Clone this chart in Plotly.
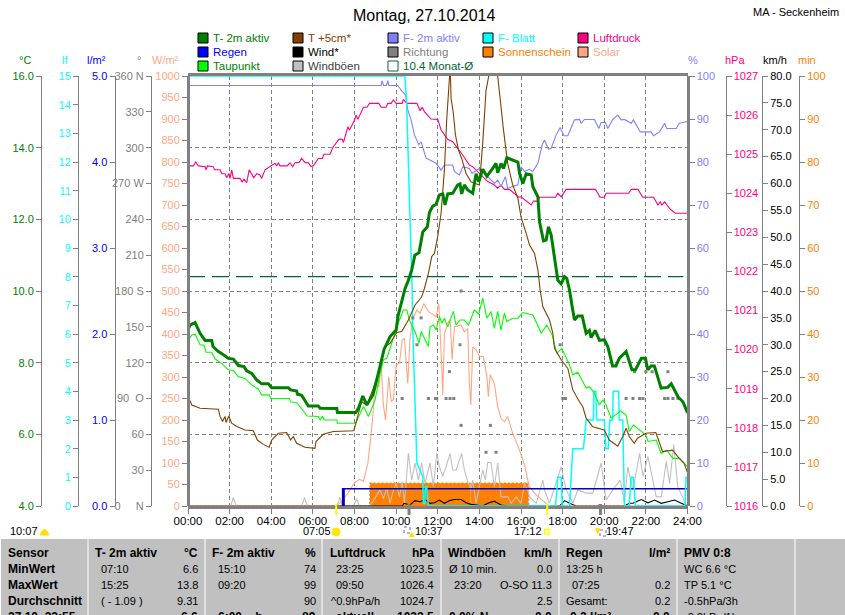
import plotly.graph_objects as go

# all series, hours on the x axis
hour_ticks = [0,2,4,6,8,10,12,14,16,18,20,22,24]
hour_labels = ['00:00','02:00','04:00','06:00','08:00','10:00','12:00','14:00','16:00','18:00','20:00','22:00','24:00']

t2m_h = [0,.1,.34,.58,.82,1.14,1.2,1.46,1.7,1.94,2.18,2.42,2.69,2.82,3.06,3.3,3.54,3.86,4.02,4.82,4.93,5.22,5.26,5.46,5.78,6.26,6.35,7.15,7.18,8.06,8.19,8.4,8.59,8.88,9.07,9.31,9.42,9.71,10,10.1,10.32,10.43,10.59,10.75,10.9,11.1,11.28,11.5,11.6,11.76,11.92,12.08,12.24,12.35,12.48,12.72,12.96,13.07,13.15,13.28,13.44,13.68,13.84,13.97,14.16,14.36,14.64,14.8,14.88,15.04,15.16,15.32,15.53,15.85,15.93,16.09,16.25,16.49,16.57,16.81,16.89,17.08,17.21,17.32,17.45,17.61,17.77,17.93,18.09,18.2,18.33,18.46,18.57,18.73,18.94,19.13,19.29,19.37,19.56,19.77,20,20.17,20.4,20.56,20.72,21.05,21.33,21.5,21.78,21.98,22.09,22.25,22.41,22.73,23.05,23.22,23.54,23.78,24]
t2m_val = [8.91,9.05,9.12,8.82,8.62,8.62,8.45,8.31,8.22,8.12,8.1,7.92,7.89,7.77,7.7,7.52,7.41,7.41,7.3,7.3,7.24,7.21,7.12,7.09,6.79,6.79,6.73,6.72,6.61,6.61,6.73,7.07,6.82,7.1,7.52,8.08,8.37,8.73,8.91,9.33,9.84,10.07,10.3,10.59,11,11.07,11.65,11.79,12.19,12.37,12.42,12.68,12.71,12.4,12.71,12.73,12.96,12.99,12.71,12.96,12.82,12.73,13.27,13.05,13.4,13.2,13.42,13.56,13.3,13.56,13.42,13.72,13.67,13.6,13.28,13,13.27,13.24,12.91,12.63,11.93,11.4,11.42,11.79,11.56,10.86,10.3,10.2,10.4,10.35,10.03,9.56,9.19,9.3,9.3,8.82,8.9,8.7,8.9,8.62,8.64,8.45,7.91,7.91,8.12,8.31,7.8,7.8,8.12,8.12,7.8,7.91,7.91,7.29,7.31,7.41,7.05,6.91,6.6]

dew_h = [0,.18,.34,.58,.77,.87,1.14,1.3,1.62,1.94,2.18,2.42,2.74,3.06,3.38,3.54,3.9,3.97,4.87,4.93,5.22,5.62,5.73,6.26,6.35,6.46,6.54,7.15,7.18,8.06,8.27,8.43,8.67,8.99,9.23,9.39,9.55,9.87,10.1,10.35,10.51,10.67,10.91,11.1,11.2,11.4,11.55,11.63,11.79,11.92,12.08,12.2,12.32,12.48,12.75,12.88,13.07,13.28,13.48,13.76,13.97,14.16,14.36,14.56,14.72,14.88,15.04,15.2,15.32,15.6,15.85,16.09,16.57,16.76,16.97,17.24,17.5,17.72,17.96,18.33,18.49,18.73,19.13,19.29,19.52,19.77,19.93,20.09,20.33,20.65,20.76,21.05,21.2,21.4,21.78,22,22.1,22.5,22.73,23,23.3,23.62,24]
dew_val = [8.62,8.77,8.8,8.5,8.49,8.29,8.29,8.1,7.98,7.8,7.78,7.61,7.56,7.38,7.26,7.1,7.1,7,7,6.9,6.89,6.59,6.51,6.5,6.4,6.51,6.4,6.4,6.31,6.31,6.59,6.78,6.5,6.96,7.7,8.08,8.12,8.73,9.1,9.47,9.47,9.15,8.87,8.54,8.87,8.63,8.45,9,9.05,8.91,9.29,9.1,9.24,9,9.43,9.05,9.19,9.19,9.05,9.47,9.36,9.8,9.24,9.43,8.96,9.43,8.91,9.38,9.15,9.24,9.24,9.4,9.33,9.1,8.82,9.05,8.77,8.26,8.4,7.94,7.66,7.73,7.29,7.33,7.15,6.82,6.96,6.82,6.45,6.59,6.66,6.54,6.08,6.26,6.08,5.98,5.8,5.84,5.47,5.56,5.33,5.33,5.1]

t5_h = [0,.1,.18,.58,1.46,1.54,1.66,1.78,1.83,1.96,2.1,2.34,2.74,3.14,3.33,3.62,3.9,4.02,4.34,4.74,4.93,5.06,5.22,5.62,6.1,6.15,6.5,6.98,7.97,8.1,8.34,8.59,8.91,9.23,9.47,9.71,10.03,10.27,10.59,10.91,11.23,11.36,11.55,11.71,11.84,12,12.16,12.32,12.43,12.56,12.6,12.64,12.75,12.85,13,13.17,13.36,13.6,14,14.16,14.32,14.45,14.66,14.88,15,15.16,15.36,15.6,15.85,16,16.25,16.41,16.65,16.81,16.92,17.05,17.37,17.53,17.61,17.93,18.25,18.49,18.81,18.97,19.13,19.45,20,20.24,20.65,20.89,21.05,21.2,21.44,21.6,22,22.48,22.8,23.28,23.6,23.84,24]
t5_val = [6.73,6.94,6.82,6.73,6.7,6.5,6.36,6.5,6.33,6.51,6.31,6.22,6.12,6.1,5.84,5.72,5.64,5.84,6.03,6.05,5.84,5.94,5.75,5.64,5.61,5.8,6,6.08,6.1,6.4,6.91,6.82,7.29,7.89,8.45,8.54,8.84,8.87,9.19,9.61,9.84,10.07,10.49,10.96,11.05,11.52,12.17,13.38,14.77,15.93,16.2,15.38,14.96,14.35,13.93,13.66,13.28,13.05,12.96,14.12,15.6,16,17.2,16,15.33,14.49,13.56,12.96,12.59,12.07,11.61,11.28,11.05,10.59,10.03,9.56,9.19,8.82,8.4,8.08,7.84,7.24,6.91,6.77,6.45,6.21,6.12,5.84,5.67,5.94,6.17,5.94,5.75,5.89,6.03,6.05,5.52,5.56,5.33,5.19,4.93]

hum_h = [0,9.28,9.32,9.4,9.53,9.6,9.65,10.08,10.24,10.45,10.56,10.72,10.88,11.09,11.2,11.44,11.6,11.92,12.16,12.32,12.72,12.8,13.04,13.2,13.52,13.65,14,14.16,14.4,14.72,14.88,15.04,15.25,15.36,15.85,16,16.17,16.4,16.57,16.81,17.02,17.13,17.32,17.45,17.69,17.88,18.06,18.25,18.57,18.81,18.89,19.05,19.53,19.74,19.85,20.06,20.17,20.41,20.65,20.81,20.97,21.29,21.4,21.73,22.25,22.37,22.66,22.9,23,23.46,23.6,24]
hum_val = [97.8,97.8,98.9,97.8,97.8,98.9,97.8,97.8,96.7,95.6,92.1,89.8,86.3,84,84.7,80.9,80.5,79.7,78.1,79.3,79.3,77.8,77,78.9,78.5,77.4,78.5,78.1,76.6,75,75.8,74.3,76.6,73.9,74.7,78.9,77.8,78.3,77.8,79.7,84,85.1,83,83.2,86.3,88,86.1,86.1,89.8,89.9,89,89.9,89.9,87.8,89.2,89.2,87.8,89.9,90.9,89.8,89.9,89,89.8,87,87,86.1,87,89,87.8,87.8,89,89.4]

press_h = [0,.26,.37,.5,.82,.87,.93,1.22,1.27,1.54,1.62,1.78,1.86,1.96,2.02,2.1,2.18,2.5,2.6,2.69,2.82,2.94,3.16,3.3,3.46,3.54,3.7,3.9,4.18,4.26,4.34,4.42,4.77,4.9,5.03,5.14,5.34,5.46,5.62,5.78,5.9,6.02,6.26,6.46,6.53,6.82,6.98,7.25,7.41,7.47,7.68,7.76,8,8.08,8.16,8.43,8.6,8.72,9.17,9.28,9.52,9.6,9.76,9.87,10,10.29,10.35,10.51,11,11.15,11.25,11.36,11.68,12,12.16,12.48,12.72,12.96,13.2,13.52,13.68,14,14.4,14.72,14.88,15.04,15.2,15.44,15.68,15.89,16,16.25,16.49,16.6,16.81,16.89,17.66,17.77,17.93,18.17,19.58,19.8,20,20.09,21.17,21.3,21.62,21.85,22.37,22.58,22.69,22.77,22.9,23.17,23.42,24]
press_val = [1024.7,1024.7,1024.8,1024.7,1024.68,1024.6,1024.7,1024.68,1024.6,1024.6,1024.5,1024.5,1024.4,1024.5,1024.38,1024.6,1024.38,1024.38,1024.29,1024.36,1024.27,1024.6,1024.4,1024.5,1024.47,1024.38,1024.6,1024.68,1024.77,1024.7,1024.78,1024.7,1024.7,1024.78,1024.68,1024.78,1024.79,1024.89,1024.79,1024.78,1024.69,1024.7,1024.89,1024.89,1025,1025,1025.19,1025.38,1025.38,1025.3,1025.7,1025.62,1025.87,1026,1025.89,1026.2,1026.2,1026.3,1026.3,1026.2,1026.2,1026.3,1026.3,1026.39,1026.3,1026.3,1026.4,1026.3,1026.3,1026.11,1026.2,1026.09,1025.9,1025.89,1025.62,1025.38,1025.32,1025.15,1024.98,1024.72,1024.68,1024.51,1024.3,1024.21,1024.13,1024.21,1024.1,1024.1,1024,1023.9,1023.91,1023.81,1023.7,1023.8,1023.8,1023.9,1023.9,1024,1023.91,1024.1,1024.1,1023.9,1023.9,1024,1024,1024.1,1024.1,1023.9,1023.9,1023.7,1023.78,1023.7,1023.78,1023.59,1023.49,1023.49]

leaf_h = [0,10.42,10.5,10.53,10.58,10.63,10.71,10.77,10.8,10.88,10.96,11,11.28,11.31,11.38,11.41,11.47,11.55,17.66,17.77,17.93,17.98,18.33,18.49,19,19.13,19.48,19.5,19.6,19.63,20,20.08,20.19,20.27,20.4,20.43,20.69,20.72,20.89,20.92,20.97,21.2,21.29,21.4,21.5,23.88,23.93,24]
leaf_val = [15,15,14.16,13.47,12.3,10.8,9.28,7.54,6.14,4.05,2.54,1.49,1.03,.1,.1,.68,.68,0,0,1,1,0,0,2,2,3,3,4,4,3,3,2,2,3,3,4,4,3,3,1.5,0,0,1,1,0,0,1,1]

solar_h = [0,7.05,7.3,7.68,8,8.24,8.43,8.64,8.75,8.85,8.96,9.07,9.17,9.28,9.39,9.49,9.65,9.76,9.87,10,10.16,10.29,10.4,10.56,10.67,10.8,11,11.15,11.33,11.55,11.71,11.92,12.05,12.13,12.2,12.24,12.32,12.48,12.6,12.69,12.8,13.12,13.28,13.44,13.52,13.59,13.68,13.84,14,14.2,14.36,14.43,14.52,14.72,14.88,15.04,15.2,15.36,15.6,15.93,16.17,16.4,16.73,17.2,17.37,24]
solar_val = [0,0,6,30,54,62,57,99,146,192,262,285,277,328,235,200,301,243,247,328,332,386,390,285,390,436,456,448,471,452,448,440,471,401,316,258,401,425,433,340,417,421,405,413,285,235,370,363,349,347,301,254,305,285,231,204,196,208,169,130,95,45,26,6,0,0]

gust_h = [0,2.05,2.18,2.31,5.47,5.6,5.73,7.17,7.3,7.43,7.97,8.1,8.23,8.75,9.23,9.39,9.55,9.71,9.87,10,10.16,10.29,10.4,10.59,10.75,10.91,11.07,11.23,11.39,11.63,11.79,11.95,12.08,12.24,12.4,12.59,12.72,12.88,13.15,13.28,13.44,13.6,13.68,13.84,14,14.16,14.29,14.4,14.56,14.72,14.88,15.04,15.37,15.53,15.77,16,16.17,16.33,16.41,16.73,17.05,17.13,17.37,17.93,18.17,18.49,18.73,19.13,19.45,19.85,20.09,20.41,20.77,20.97,21.13,21.38,21.7,21.86,22.1,22.34,22.5,22.74,22.98,23.14,23.34,23.53,23.74,23.9,24]
gust_val = [0,0,1.6,0,0,1.6,0,0,1.6,0,0,1.4,0,0,3,1.4,3.3,.5,3,4.2,1.7,4.5,.5,9.8,4.8,8,4.8,8,4.2,8,3.6,9.8,7.3,5.5,7.3,9.8,6.7,6.7,9.8,6.7,4.5,3,4.8,.5,3.6,6.7,4.8,8.1,8.1,3.6,8,1.7,1.7,.5,1.7,.5,4.2,3,1.7,.5,4.8,3,.5,7.3,3,.5,3,2.4,2.4,8,1.1,3,4.8,.5,7.3,3,9.8,5.5,9.2,4.8,1.7,1.7,8.3,4.2,11.4,3.6,1.7,.5,0]

wind_h = [0,10.3,10.38,10.67,10.9,11.15,11.4,11.63,11.84,12.08,12.32,12.56,12.8,13.12,13.36,13.6,14.16,14.4,14.72,15.04,15.37,17.85,18.09,18.33,18.65,20.97,21.2,21.38,21.78,22.1,22.42,22.74,23.06,23.38,23.7,24]
wind_val = [0,0,.5,.2,1,.8,1.2,.5,.6,1.1,.5,1,1.2,1.2,.6,.3,0,.5,.9,.2,0,0,1,.5,0,0,.5,.5,1.2,.6,1.1,.5,.8,1.1,.5,0]

dir_h = [10.29,10.8,11,11.2,11.55,11.89,11.95,12.4,12.56,12.59,12.77,13.07,13.12,13.12,14.32,14.53,14.8,17.88,18.01,18.14,19.77,21.05,21.38,21.45,21.7,21.86,22,22.3,22.9,23.06,23.06,23.3,23.54]
dir_val = [90,157.5,135,157.5,90,90,90,90,112.5,90,90,135,67.5,180,45,67.5,45,135,90,90,0,90,90,112.5,90,90,112.5,112.5,90,90,112.5,90,90]

rain_h = [7.43,7.43,7.5,7.5,7.5,24]
rain_val = [0,.2,.2,0,.2,.2]

sun_h = [0,8.74,8.75,13.55,13.55,13.6,13.6,16.35,16.36,24]
sun_val = [0,0,5.3,5.3,0,0,5.3,5.3,0,0]

month_h = [0,23.8]
month_val = [10.4,10.4]

# legend, column by column
legend_names = ['T- 2m aktiv','Regen','Taupunkt','T +5cm*','Wind*','Windböen','F- 2m aktiv','Richtung','10.4 Monat-Ø','F- Blatt','Sonnenschein','Luftdruck','Solar']
legend_fill = ['#008000','#0000ff','#00ff00','#804000','#000000','#c0c0c0','#8080ff','#808080','#ffffff','#00ffff','#ff8000','#ff0080','#ffa680']
legend_text = ['#008000','#0000ff','#008000','#804000','#000000','#404040','#8080ff','#808080','#006633','#00ffff','#ff8000','#ff0080','#ffa680']

# bottom table
table_heads = ['T- 2m aktiv','F- 2m aktiv','Luftdruck','Windböen','Regen']
table_units = ['°C','%','hPa','km/h','l/m²']
row_names = ['Sensor','MinWert','MaxWert','Durchschnitt','27.10. 23:55']
col_left = [['07:10','15:25','( - 1.09 )','   '],['15:10','09:20','','6:00 .. h'],['23:25','09:50','^0.9hPa/h','aktuell'],['Ø 10 min.','23:20','','0.0% N'],['13:25 h','07:25','Gesamt:','-0.2 l/m²']]
col_right = [['6.6','13.8','9.31','6.6'],['74','99','90','89'],['1023.5','1026.4','1024.7','1023.5'],['0.0','O-SO 11.3','2.5','0.0'],['','0.2','0.2','0.0']]
pmv_lines = ['WC 6.6 °C','TP 5.1 °C','-0.5hPa/3h','-0.2hPa/1h']

FONT = 'Liberation Sans'
W, H = 845, 615

def px(x):
	return x/W
def py(y):
	return 1-y/H

annos = []
shapes = []

def txt(x, y, s, color='black', size=11, anchor='left', bold=False):
	if bold:
		s = '<b>'+s+'</b>'
	annos.append(dict(x=px(x), y=py(y), xref='paper', yref='paper', text=s, showarrow=False, xanchor=anchor, yanchor='middle',
		font=dict(family=FONT, size=size, color=color), borderpad=0, borderwidth=0))

def box(x0, y0, x1, y1, fill, line='rgba(0,0,0,0)', w=1, layer='above', dash='solid'):
	shapes.append(dict(type='rect', xref='paper', yref='paper', x0=px(x0), x1=px(x1), y0=py(y0), y1=py(y1),
		fillcolor=fill, line=dict(color=line, width=w, dash=dash), layer=layer))

fig = go.Figure()

def line(x, y, axis, color, width=1.1, name='', **kw):
	fig.add_trace(go.Scatter(x=x, y=y, yaxis=axis, mode='lines', name=name, line=dict(color=color, width=width, **kw), showlegend=False, hoverinfo='skip'))

# drawing order follows the axis numbers, plotly stacks the overlays that way
fig.add_trace(go.Scatter(x=sun_h, y=sun_val, yaxis='y', mode='lines', fill='tozeroy', fillcolor='#ff8000', line=dict(color='#ff8000', width=1.5, dash='2px,2px'), showlegend=False, hoverinfo='skip'))
line(gust_h, gust_val, 'y2', '#c0c0c0', name='Windböen')
line(wind_h, wind_val, 'y2', '#000000', name='Wind*')
line(solar_h, solar_val, 'y3', '#ffa680', name='Solar')
line(rain_h, rain_val, 'y4', '#0000c8', 1.5, name='Regen')
line(press_h, press_val, 'y5', '#ff0080', name='Luftdruck')
line(hum_h, hum_val, 'y6', '#8080ff', name='F- 2m aktiv')
line(leaf_h, leaf_val, 'y7', '#00ffff', 1.5, name='F- Blatt')
fig.add_trace(go.Scatter(x=dir_h, y=dir_val, yaxis='y8', mode='markers', marker=dict(symbol='square', size=3, color='#808080'), showlegend=False, hoverinfo='skip'))
line(month_h, month_val, 'y9', '#006633', 1.2, name='Monat', dash='17px,7px')
line(dew_h, dew_val, 'y9', '#00ff00', name='Taupunkt')
line(t5_h, t5_val, 'y9', '#804000', name='T +5cm*')
line(t2m_h, t2m_val, 'y9', '#008000', 3, name='T- 2m aktiv')

def yax(lo, hi, pos, color, side='left', ticks=None, labels=None, dtick=None, fmt=None, lw=1, **kw):
	d = dict(range=[lo, hi], domain=[py(506), py(76)], anchor='free', position=px(pos), side=side, showgrid=False, zeroline=False,
		showline=True, linecolor='#808080', linewidth=lw, ticks='outside', ticklen=5, tickcolor='#808080', tickwidth=1,
		tickfont=dict(family=FONT, size=11, color=color), automargin=False)
	if ticks:
		d.update(tickmode='array', tickvals=ticks, ticktext=labels)
	else:
		d.update(tickmode='linear', tick0=lo, dtick=dtick)
	if fmt:
		d['tickformat'] = fmt
	d.update(kw)
	return d

layout_axes = dict(
	yaxis=yax(0, 100, 799, '#ff8000', 'right', dtick=10),
	yaxis2=yax(0, 80, 762, '#000000', 'right', dtick=5, fmt='.1f', overlaying='y'),
	yaxis3=yax(0, 1000, 188, '#ffa680', 'left', dtick=50, lw=3, overlaying='y'),
	yaxis4=yax(0, 5, 114.5, '#0000ff', 'left', dtick=1, fmt='.1f', overlaying='y'),
	yaxis5=yax(1016, 1027, 725.5, '#ff0080', 'right', dtick=1, fmt='d', overlaying='y'),
	yaxis6=yax(0, 100, 687.5, '#8080ff', 'right', dtick=10, lw=3, overlaying='y'),
	yaxis7=yax(0, 15, 78, '#00ffff', 'left', dtick=1, overlaying='y'),
	yaxis8=yax(0, 360, 151, '#808080', 'left', ticks=[0,30,60,90,120,150,180,210,240,270,300,330,360],
		labels=['0&nbsp;&nbsp;&nbsp;&nbsp;&nbsp;N','30','60','90&nbsp;&nbsp;O','120','150','180 S','210','240','270 W','300','330','360 N'], overlaying='y'),
	yaxis9=yax(4, 16, 41, '#008000', 'left', dtick=2, fmt='.1f', overlaying='y', showgrid=True, gridcolor='#808080', griddash='4px,3px', gridwidth=1),
)

# axis units above the scales
unit_x = [25, 65, 96, 139, 165, 693, 735, 775, 807]
unit_text = ['°C', 'lf', 'l/m²', '°', 'W/m²', '%', 'hPa', 'km/h', 'min']
unit_col = ['#008000', '#00ffff', '#0000ff', '#808080', '#ffa680', '#8080ff', '#ff0080', '#000000', '#ff8000']
for x, s, c in zip(unit_x, unit_text, unit_col):
	txt(x, 60, s, c, 11, 'center')

txt(424, 15, 'Montag, 27.10.2014', 'black', 16, 'center')
txt(753, 12, 'MA - Seckenheim', 'black', 11)

# legend swatches, three to a column
legend_cols = [198, 293, 388, 483, 578]
legend_rows = [38, 52, 66]
slots = [(0,0),(0,1),(0,2),(1,0),(1,1),(1,2),(2,0),(2,1),(2,2),(3,0),(3,1),(4,0),(4,1)]
for (c, r), n, f, t in zip(slots, legend_names, legend_fill, legend_text):
	x = legend_cols[c]
	y = legend_rows[r]
	edge = '#006633' if n.startswith('10.4') else '#000000'
	box(x, y-5, x+10, y+5, f, edge, 1)
	txt(x+15, y, n, t, 11.5)

# sun and moon times below the axis
sun_marks = [7.12, 17.26]
moon_marks = [10.62, 19.82]
for h in sun_marks:
	shapes.append(dict(type='line', xref='x', yref='paper', x0=h, x1=h, y0=py(504), y1=py(515), line=dict(color='#ffff00', width=2)))
for h in moon_marks:
	shapes.append(dict(type='line', xref='x', yref='paper', x0=h, x1=h, y0=py(504), y1=py(515), line=dict(color='#808080', width=3)))

txt(10, 531, '10:07')
txt(303, 531, '07:05')
shapes.append(dict(type='circle', xref='paper', yref='paper', x0=px(332), x1=px(340), y0=py(536), y1=py(528), fillcolor='#ffe800', line=dict(color='#ffe800', width=1)))
box(404, 527, 410, 533, 'rgba(0,0,0,0)', '#6060d0', 1, dash='dot')
txt(411.7, 533, '▲', '#ffe000', 10, 'center')
txt(443, 531, '10:37', 'black', 11, 'right')
txt(514, 531, '17:12')
box(544.5, 529.5, 549, 534, 'white', '#ffff00', 1.5)
box(600, 530, 606, 536, 'rgba(0,0,0,0)', '#6060d0', 1, dash='dot')
txt(598, 530, '▼', '#ffe000', 10, 'center')
txt(634, 531, '19:47', 'black', 11, 'right')
shapes.append(dict(type='path', xref='paper', yref='paper', path='M %f %f Q %f %f %f %f Z' % (px(40), py(535), px(44.5), py(524), px(49), py(535)), fillcolor='#ffe000', line=dict(color='#ffe000', width=1)))

# table below the chart
box(1, 539, W, H+2, '#c0c0c0', layer='below')
for x in [88, 205, 322, 441, 559, 677, 795]:
	box(x-.5, 539, x+.5, H+2, '#ffffff', layer='below')

row_y = [553, 569, 585, 601, 617]
for y, s in zip(row_y, row_names):
	txt(8, y, s, 'black', 12, bold=True)

head_x = [95, 212, 330, 448, 566]
left_x = [[101,101,101,101],[218,218,218,218],[336,336,331,336],[449,454,454,449],[566,572,566,566]]
right_x = [198, 316, 434, 552, 670]
for i in range(5):
	txt(head_x[i], row_y[0], table_heads[i], size=12, bold=True)
	txt(right_x[i], row_y[0], table_units[i], size=12, anchor='right', bold=True)
	for j in range(4):
		if col_left[i][j].strip():
			txt(left_x[i][j], row_y[j+1], col_left[i][j], size=12 if j == 3 else 11, bold=(j == 3))
		if col_right[i][j]:
			txt(right_x[i], row_y[j+1], col_right[i][j], size=12 if j == 3 else 11, anchor='right', bold=(j == 3))
txt(684, row_y[0], 'PMV 0:8', size=12, bold=True)
for y, s in zip(row_y[1:], pmv_lines):
	txt(684, y, s)

fig.update_layout(
	width=W, height=H, margin=dict(l=0, r=0, t=0, b=0, autoexpand=False), paper_bgcolor='white', plot_bgcolor='white',
	showlegend=False, annotations=annos, shapes=shapes,
	xaxis=dict(range=[0, 24], domain=[px(188), px(687.5)], tickmode='array', tickvals=hour_ticks, ticktext=hour_labels,
		showgrid=True, gridcolor='#808080', griddash='4px,3px', gridwidth=1, zeroline=False,
		showline=True, mirror=True, linecolor='#808080', linewidth=3, ticks='outside', ticklen=5, tickcolor='#808080',
		ticklabelstandoff=-3, tickfont=dict(family=FONT, size=11.5, color='black'), anchor='y'),
	**layout_axes,
)

fig.write_html("out.html", config=dict(displayModeBar=False), post_script="document.body.style.margin='0';")
